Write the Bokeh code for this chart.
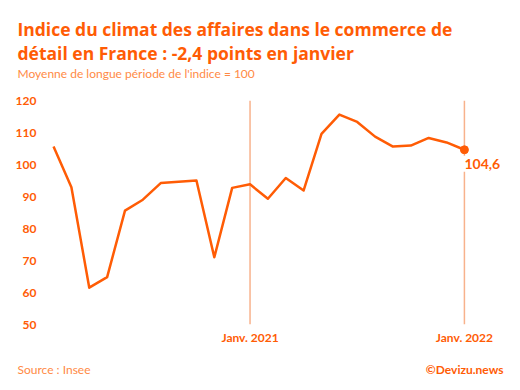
from bokeh.plotting import figure
from bokeh.models import Span, Label, FixedTicker, Range1d
from bokeh.layouts import column
from bokeh.embed import file_html
from bokeh.resources import INLINE

months = ["févr. 2020", "mars 2020", "avr. 2020", "mai 2020", "juin 2020", "juil. 2020",
          "août 2020", "sept. 2020", "oct. 2020", "nov. 2020", "déc. 2020", "janv. 2021",
          "févr. 2021", "mars 2021", "avr. 2021", "mai 2021", "juin 2021", "juil. 2021",
          "août 2021", "sept. 2021", "oct. 2021", "nov. 2021", "déc. 2021", "janv. 2022"]
values = [105.6, 92.9, 61.5, 64.8, 85.6, 89.0, 94.2, 94.6, 95.0, 71.0, 92.7, 93.8,
          89.3, 95.8, 91.9, 109.6, 115.6, 113.3, 108.7, 105.6, 105.9, 108.3, 106.9, 104.6]
y_ticks = [50, 60, 70, 80, 90, 100, 110, 120]
marked = {"janv. 2021": "Janv. 2021", "janv. 2022": "Janv. 2022"}
last_label = "104,6"
title_lines = ["Indice du climat des affaires dans le commerce de",
               "détail en France : -2,4 points en janvier"]
subtitle = "Moyenne de longue période de l'indice = 100"
source = "Source : Insee"
credit = "©Devizu.news"

ORANGE = "#FF5C05"
LIGHT = "#FF8A45"
VLINE = "#F8B28C"
FONT = "Lato"
TFONT = "Open Sans"
W = 520

xs = list(range(len(values)))
idx_marked = [months.index(m) for m in marked]


def text_panel(h):
    f = figure(width=W, height=h, output_backend="svg", toolbar_location=None,
               x_range=Range1d(0, W), y_range=Range1d(h, 0),
               x_axis_location=None, y_axis_location=None, min_border=0,
               frame_align=False)
    f.outline_line_color = None
    f.grid.visible = False
    return f


def put(f, x, y, text, size, color, bold=False, align="left", font=FONT):
    f.add_layout(Label(x=x, y=y, text=text, text_font=font, text_font_size=size,
                       text_color=color, text_font_style="bold" if bold else "normal",
                       text_align=align, text_baseline="middle"))


header = text_panel(90)
put(header, 17, 28, title_lines[0], "17.5px", ORANGE, bold=True, font=TFONT)
put(header, 17, 52, title_lines[1], "17.5px", ORANGE, bold=True, font=TFONT)
put(header, 17, 73, subtitle, "12px", LIGHT)

p = figure(width=W, height=260, output_backend="svg", toolbar_location=None,
           x_range=Range1d(-0.45, 25.3), y_range=Range1d(50, 120), frame_align=False,
           min_border_left=45, min_border_right=15, min_border_top=10, min_border_bottom=26)
p.outline_line_color = None
p.grid.visible = False

for i in idx_marked:
    p.add_layout(Span(location=i, dimension="height", line_color=VLINE, line_width=1.5,
                      level="underlay"))

p.line(xs, values, line_color=ORANGE, line_width=2.5, line_join="round")
p.scatter([xs[-1]], [values[-1]], size=8, color=ORANGE)

p.add_layout(Label(x=xs[-1], y=values[-1], text=last_label, text_font=FONT,
                   text_font_style="bold", text_font_size="14px", text_color=ORANGE,
                   text_baseline="middle", text_align="left", y_offset=-14, x_offset=-3,
                   background_fill_color="white", padding=3))

p.yaxis.ticker = FixedTicker(ticks=y_ticks)
p.yaxis.axis_line_color = None
p.yaxis.major_tick_line_color = None
p.yaxis.minor_tick_line_color = None
p.yaxis.major_tick_out = 0
p.yaxis.major_tick_in = 0
p.yaxis.major_label_text_font = FONT
p.yaxis.major_label_text_font_style = "bold"
p.yaxis.major_label_text_font_size = "12px"
p.yaxis.major_label_text_color = ORANGE
p.yaxis.major_label_standoff = 9

p.xaxis.ticker = FixedTicker(ticks=idx_marked)
p.xaxis.major_label_overrides = {i: marked[months[i]] for i in idx_marked}
p.xaxis.axis_line_color = None
p.xaxis.major_tick_line_color = None
p.xaxis.minor_tick_line_color = None
p.xaxis.major_tick_out = 0
p.xaxis.major_tick_in = 0
p.xaxis.major_label_text_font = FONT
p.xaxis.major_label_text_font_style = "bold"
p.xaxis.major_label_text_font_size = "12px"
p.xaxis.major_label_text_color = ORANGE
p.xaxis.major_label_standoff = 5

footer = text_panel(40)
put(footer, 17, 19, source, "12px", LIGHT)
put(footer, 503, 19, credit, "12px", ORANGE, bold=True, align="right")

layout = column(header, p, footer, spacing=0)
open("out.html", "w").write(file_html(layout, INLINE))
